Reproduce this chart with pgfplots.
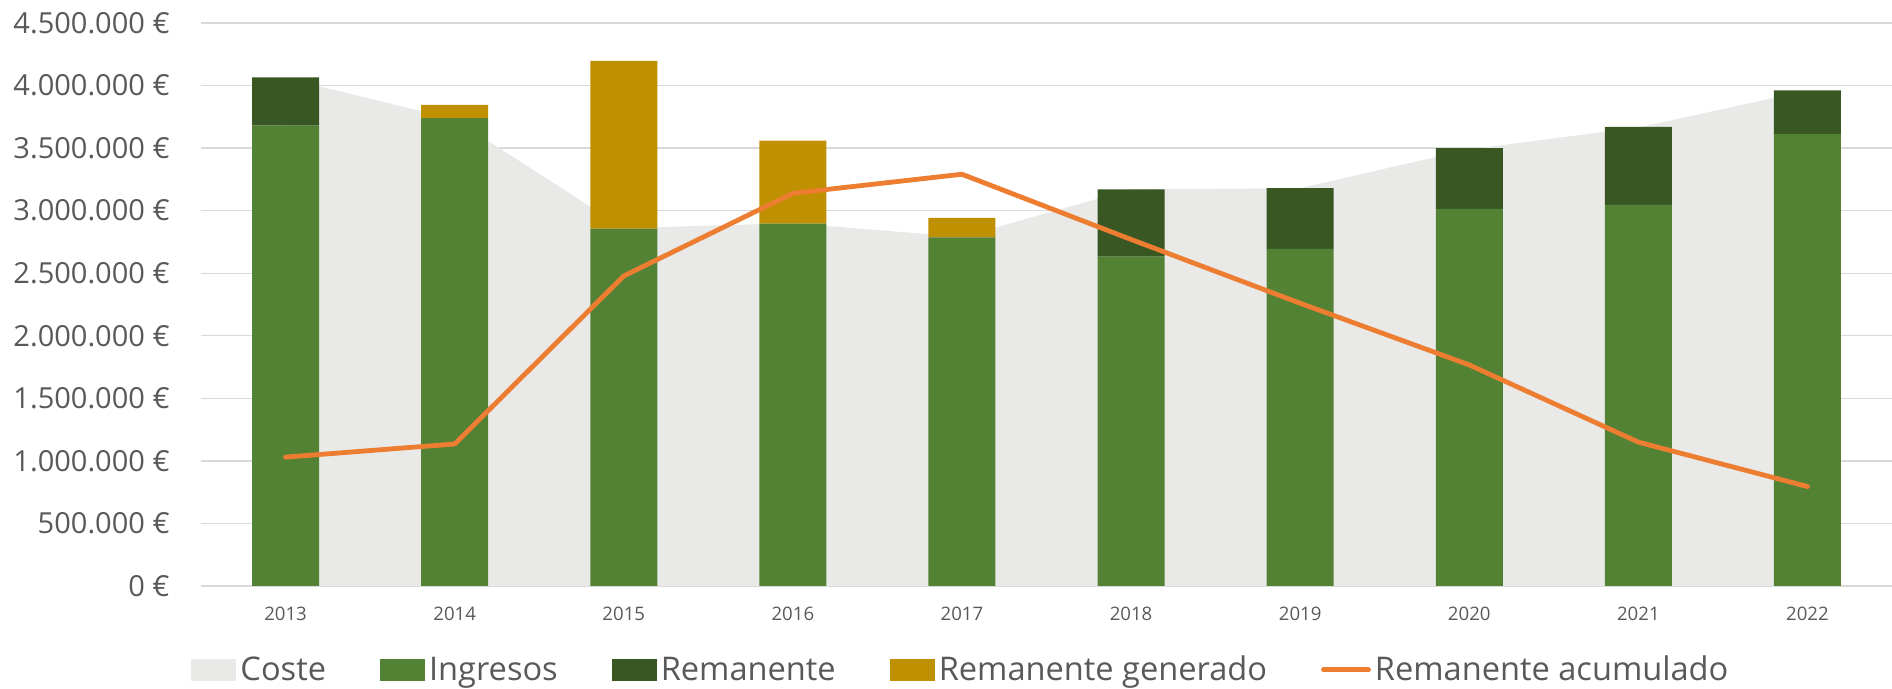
\documentclass[border=0pt]{standalone}
\usepackage{fontspec}
\setmainfont{Open Sans}
\usepackage{pgfplots}
\pgfplotsset{compat=1.18}
\definecolor{ingresos}{HTML}{548235}
\definecolor{reman}{HTML}{385723}
\definecolor{gen}{HTML}{BF9000}
\definecolor{acum}{HTML}{ED7D31}
\definecolor{coste}{HTML}{E9E9E7}
\definecolor{gridc}{HTML}{D9D9D9}
\definecolor{txt}{HTML}{595959}
\pgfplotsset{common/.style={scale only axis, width=845.5pt, height=281.5pt,
  xmin=-0.5, xmax=9.5, ymin=0, ymax=4500000, at={(0pt,0pt)}, anchor=south west},
  swatch legend/.style={legend image code/.code={\fill[##1] (0pt,-5.5pt) rectangle (22.5pt,5.5pt);}},
  line legend22/.style={legend image code/.code={\draw[##1] (0pt,0pt) -- (22.5pt,0pt);}}}
\begin{document}
\begin{tikzpicture}
\useasboundingbox (-100.5pt,-51.5pt) rectangle (845.5pt,293pt);
% base axis: grid, ticks, Coste area
\begin{axis}[common,
  axis x line*=bottom, axis y line*=left,
  y axis line style={draw=none},
  x axis line style={draw=gridc, line width=0.7pt},
  major tick length=0pt,
  scaled y ticks=false,
  xtick={0,1,2,3,4,5,6,7,8,9},
  xticklabels={2013,2014,2015,2016,2017,2018,2019,2020,2021,2022},
  ytick={0,500000,1000000,1500000,2000000,2500000,3000000,3500000,4000000,4500000},
  yticklabels={0 €,500.000 €,1.000.000 €,1.500.000 €,2.000.000 €,2.500.000 €,3.000.000 €,3.500.000 €,4.000.000 €,4.500.000 €},
  ymajorgrids,
  grid style={draw=gridc, line width=0.7pt},
  yticklabel style={anchor=east, inner sep=0pt, xshift=-15.5pt, text=txt, font=\fontsize{14.5}{17}\selectfont},
  xticklabel style={anchor=north, inner sep=0pt, yshift=-10.3pt, text=txt, font=\fontsize{9.3}{11}\selectfont},
]
\addplot[fill=coste, draw=none] coordinates {
  (0,4060000) (1,3730000) (2,2860000) (3,2900000) (4,2790000)
  (5,3170000) (6,3180000) (7,3490000) (8,3665000) (9,3960000)} \closedcycle;
\end{axis}
% stacked bars
\begin{axis}[common, hide axis, ybar stacked, bar width=33.5pt]
\addplot[fill=ingresos, draw=none] coordinates {
  (0,3680000) (1,3740000) (2,2856000) (3,2896000) (4,2787000)
  (5,2632000) (6,2694000) (7,3014000) (8,3046000) (9,3613000)};
\addplot[fill=reman, draw=none] coordinates {
  (0,385000) (1,0) (2,0) (3,0) (4,0)
  (5,539000) (6,487000) (7,485000) (8,623000) (9,349000)};
\addplot[fill=gen, draw=none] coordinates {
  (0,0) (1,105000) (2,1341000) (3,664000) (4,155000)
  (5,0) (6,0) (7,0) (8,0) (9,0)};
\end{axis}
% line and legend
\begin{axis}[common, hide axis,
  legend columns=-1,
  legend style={at={(0.450,-0.149)}, anchor=center, draw=none, fill=none,
    font=\fontsize{16.3}{19}\selectfont, text=txt,
    /tikz/every even column/.append style={column sep=25pt}},
  legend entries={Coste,Ingresos,Remanente,Remanente generado,Remanente acumulado},
]
\addlegendimage{fill=coste, draw=none, swatch legend}
\addlegendimage{fill=ingresos, draw=none, swatch legend}
\addlegendimage{fill=reman, draw=none, swatch legend}
\addlegendimage{fill=gen, draw=none, swatch legend}
\addplot[acum, line width=2.4pt, line join=round, line cap=round, mark=none,
  line legend22] coordinates {
  (0,1030000) (1,1135000) (2,2478000) (3,3139000) (4,3291000)
  (5,2770000) (6,2260000) (7,1767000) (8,1150000) (9,795000)};
\end{axis}
\end{tikzpicture}
\end{document}
